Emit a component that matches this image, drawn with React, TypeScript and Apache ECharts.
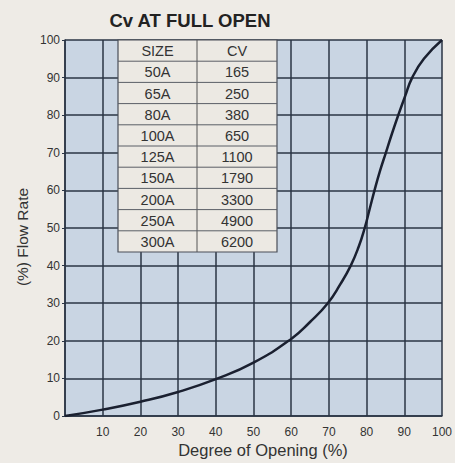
import React, { useEffect, useRef } from "react";
import * as echarts from "echarts";

const opening = [0, 10, 20, 30, 40, 50, 60, 65, 69.7, 73, 75.8, 77.9, 79.5, 80.8, 82.1, 83.5, 85.1, 86.7, 88.4, 90.2, 92.1, 95.2, 100];
const flowRate = [0, 1.7, 3.8, 6.4, 9.8, 14.2, 20.5, 25, 30, 35, 40, 45, 50, 55, 60, 65, 70, 75, 80, 85, 90, 95, 100];
const sizes = ["SIZE", "50A", "65A", "80A", "100A", "125A", "150A", "200A", "250A", "300A"];
const cvs = ["CV", "165", "250", "380", "650", "1100", "1790", "3300", "4900", "6200"];

const FONT = "Liberation Sans, Arial, sans-serif";

export default function App() {
  const ref = useRef<HTMLDivElement>(null);
  useEffect(() => {
    if (!ref.current) return;
    const chart = echarts.init(ref.current, undefined, { renderer: "svg" });
    const tLeft = 118, tRight = 277, tTop = 40, tBottom = 252, tMid = 197;
    const rowH = (tBottom - tTop) / sizes.length;
    const tableEls: any[] = [
      { type: "rect", shape: { x: tLeft, y: tTop, width: tRight - tLeft, height: tBottom - tTop }, style: { fill: "#ece9e3", stroke: "#4a4f58", lineWidth: 1.2 }, z: 10 },
      { type: "line", shape: { x1: tMid, y1: tTop, x2: tMid, y2: tBottom }, style: { stroke: "#555", lineWidth: 1 }, z: 11 },
    ];
    for (let i = 1; i < sizes.length; i++) {
      const y = tTop + i * rowH;
      tableEls.push({ type: "line", shape: { x1: tLeft, y1: y, x2: tRight, y2: y }, style: { stroke: "#5a5e66", lineWidth: 1 }, z: 11 });
    }
    sizes.forEach((s, i) => {
      const cy = tTop + (i + 0.5) * rowH + 0.5;
      tableEls.push({ type: "text", x: (tLeft + tMid) / 2, y: cy, style: { text: s, fill: "#333", font: `14.5px ${FONT}`, align: "center", verticalAlign: "middle" }, z: 12 });
      tableEls.push({ type: "text", x: (tMid + tRight) / 2, y: cy, style: { text: cvs[i], fill: "#333", font: `14.5px ${FONT}`, align: "center", verticalAlign: "middle" }, z: 12 });
    });
    const data = opening.map((x, i) => [x, flowRate[i]]);
    chart.setOption({
      animation: false,
      backgroundColor: "#eeebe6",
      grid: { left: 65, top: 40, width: 378, height: 376, show: true, backgroundColor: "#c9d5e3", borderWidth: 0 },
      xAxis: {
        type: "value", min: 0, max: 100, interval: 10,
        axisLine: { show: true, lineStyle: { color: "#2a3444", width: 1.5 } },
        axisTick: { show: false },
        axisLabel: { color: "#333", fontSize: 12, fontFamily: FONT, margin: 10, formatter: (v: number) => (v === 0 ? "" : String(v)) },
        splitLine: { show: true, lineStyle: { color: "#2a3444", width: 1.5 } },
      },
      yAxis: {
        type: "value", min: 0, max: 100, interval: 10,
        axisLine: { show: true, lineStyle: { color: "#2a3444", width: 1.5 } },
        axisTick: { show: true, length: 3, lineStyle: { color: "#2a3444" } },
        axisLabel: { color: "#333", fontSize: 12, fontFamily: FONT, margin: 5 },
        splitLine: { show: true, lineStyle: { color: "#2a3444", width: 1.5 } },
      },
      series: [{
        type: "line", data, smooth: 0.5, showSymbol: false,
        lineStyle: { color: "#1a2030", width: 2.5 }, z: 5,
      }],
      graphic: [
        { type: "text", x: 190, y: 20, style: { text: "Cv AT FULL OPEN", fill: "#222", font: `bold 18.5px ${FONT}`, align: "center", verticalAlign: "middle" } },
        { type: "text", x: 263, y: 450, style: { text: "Degree of Opening (%)", fill: "#333", font: `16.5px ${FONT}`, align: "center", verticalAlign: "middle" } },
        { type: "text", x: 22, y: 237, rotation: Math.PI / 2, style: { text: "(%) Flow Rate", fill: "#333", font: `15.5px ${FONT}`, align: "center", verticalAlign: "middle" } },
        ...tableEls,
      ],
    });
    return () => chart.dispose();
  }, []);
  return <div ref={ref} style={{ position: "absolute", left: 0, top: 0, width: 455, height: 463 }} />;
}
